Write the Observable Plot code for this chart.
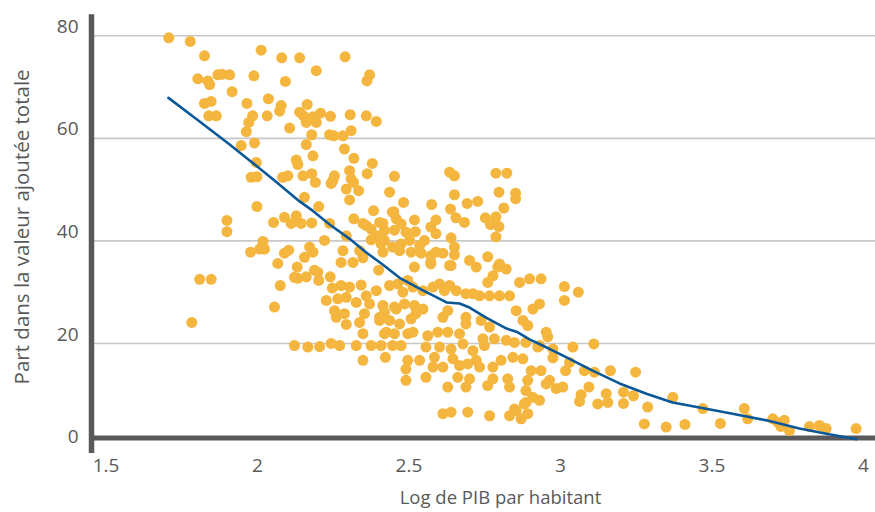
<!DOCTYPE html>
<html>
<head>
<meta charset="utf-8">
<script src="https://cdn.jsdelivr.net/npm/d3@7"></script>
<script src="https://cdn.jsdelivr.net/npm/@observablehq/plot@0.6"></script>
<style>
  html, body { margin: 0; padding: 0; background: #ffffff; }
  #chart { width: 875px; height: 512px; }
</style>
</head>
<body>
<div id="chart"></div>
<script>
// ---- Data (log GDP per capita, share of total value added) ----
const scatter = [
[1.707,79.6],[1.778,78.9],[1.825,76.1],[2.012,77.2],[2.080,75.7],[2.139,75.7],[2.289,75.9],
[1.803,71.6],[1.836,71.2],[1.842,70.5],[1.869,72.4],[1.883,72.5],[1.908,72.4],[1.988,72.2],
[2.092,71.1],[2.194,73.2],[2.370,72.4],[2.361,71.2],[1.916,69.1],[1.825,66.8],[1.847,67.2],
[1.839,64.4],[1.864,64.4],[1.965,66.8],[2.036,67.7],[2.078,66.4],[2.073,65.3],[2.164,66.6],
[2.139,65.1],[2.152,64.4],[2.161,63.1],[2.183,64.2],[2.194,63.1],[2.208,64.9],[2.241,64.3],
[2.306,64.6],[2.359,64.4],[2.392,63.3],[1.984,64.4],[1.971,63.1],[2.032,64.4],[1.963,61.3],
[2.106,62.0],[2.179,60.7],[2.238,60.7],[2.252,60.5],[2.282,60.5],[2.309,61.5],[1.946,58.6],
[1.990,59.1],[2.161,58.8],[2.287,57.9],[2.128,55.8],[2.133,54.9],[2.183,56.6],[2.318,56.1],
[2.379,55.1],[1.996,55.3],[2.304,53.7],[2.362,53.1],[2.452,52.6],[1.979,52.4],[1.998,52.5],
[2.083,52.4],[2.100,52.7],[2.150,52.7],[2.179,53.1],[2.254,52.7],[2.309,52.1],
[2.191,51.4],[2.243,51.2],[2.293,50.1],[2.317,51.4],[2.334,49.8],[2.304,48.0],[2.436,49.5],
[2.155,48.5],[2.202,46.7],[1.998,46.7],[1.899,44.0],[1.899,41.8],[2.053,43.6],[2.089,44.6],
[2.128,44.9],[2.111,43.4],[2.144,43.4],[2.179,43.5],[2.238,43.4],[2.318,44.3],[2.348,43.4],
[2.383,45.9],[2.414,43.4],[2.445,45.6],[2.452,42.1],[2.375,42.3],[2.392,41.0],[2.293,41.0],
[2.375,40.2],[2.419,40.1],[2.221,40.1],[2.018,39.9],[2.007,38.4],[2.023,38.4],[1.977,37.8],
[2.089,37.6],[2.103,38.2],[2.172,38.8],[2.183,37.8],[2.155,36.8],[2.282,38.1],[2.337,38.1],
[2.414,37.8],[2.276,35.8],[2.315,35.8],[2.348,36.7],[2.067,35.6],[2.131,34.9],[2.188,34.3],
[2.199,33.9],[2.400,34.3],[2.133,32.7],[2.161,33.0],[2.202,32.3],[2.240,33.0],[1.809,32.5],
[1.847,32.5],[2.075,31.3],[2.247,30.8],[2.276,31.3],[2.304,31.0],[2.342,31.4],[2.359,29.3],
[2.392,30.3],[2.436,31.3],[2.463,31.6],[2.227,28.4],[2.265,28.7],[2.293,29.0],[2.326,28.0],
[2.370,27.7],[2.414,27.4],[2.452,27.1],[2.254,26.4],[2.287,25.8],[2.260,25.1],[2.353,25.8],
[2.403,25.1],[2.436,24.5],[2.337,24.1],[2.293,23.7],[2.056,27.1],[1.783,24.1],[2.348,21.9],
[2.419,21.9],[2.452,21.9],
[2.122,32.9],[2.480,30.0],[2.496,32.3],[2.513,31.0],[2.546,30.3],[2.579,31.0],[2.601,31.6],
[2.617,30.3],[2.634,31.3],[2.656,30.3],[2.688,29.7],[2.711,29.7],[2.733,29.3],[2.766,29.3],
[2.799,29.3],[2.832,29.3],[2.760,31.9],[2.777,33.2],[2.793,34.9],[2.821,34.5],[2.865,31.9],
[2.898,32.6],[2.936,32.6],[2.572,35.5],[2.634,35.2],[2.722,34.9],[2.518,34.9],[2.419,26.1],
[2.458,26.7],[2.485,27.7],[2.518,27.4],[2.546,26.7],[2.403,24.5],[2.469,23.8],[2.507,24.8],
[2.523,25.8],[2.612,25.1],[2.628,26.4],[2.688,25.1],[2.688,23.8],[2.738,24.5],[2.766,23.2],
[2.854,26.4],[2.909,26.7],[2.931,27.7],[2.876,24.5],[2.892,23.5],[2.953,22.2],[2.958,21.3],
[2.425,22.2],[2.496,21.9],[2.513,22.2],[2.562,21.5],[2.595,22.2],[2.628,22.2],[2.667,21.9],
[2.744,20.9],[2.782,20.9],[2.821,20.6],[2.848,20.2],[2.122,19.6],[2.166,19.3],[2.205,19.4],
[2.243,20.0],[2.271,19.6],[2.326,19.6],[2.375,19.6],[2.408,19.6],[2.446,19.6],[2.474,19.6],
[2.556,19.3],[2.601,19.3],[2.639,18.9],[2.678,19.9],[2.711,18.6],[2.749,19.6],[2.886,20.2],
[2.931,19.6],[2.975,18.9],[2.348,16.7],[2.422,17.3],[2.496,16.7],[2.535,16.7],[2.490,15.0],
[2.584,17.3],[2.579,15.4],[2.612,15.4],[2.645,17.0],[2.667,15.7],[2.694,16.0],[2.722,16.7],
[2.733,15.4],[2.777,15.4],[2.804,16.7],[2.843,17.3],[2.876,17.0],[2.903,14.7],[2.936,14.7],
[2.953,12.1],[2.490,12.8],[2.556,13.4],[2.661,13.4],[2.700,13.1],[2.628,11.5],[2.688,11.5],
[2.760,11.8],[2.777,13.1],[2.826,13.1],[2.832,11.5],[2.892,12.8],[2.886,10.8],[2.909,9.5],
[2.931,8.9],[2.886,8.5],[2.964,12.8],[2.986,11.2],[2.612,6.3],[2.639,6.6],[2.694,6.6],
[2.766,5.9],[2.832,5.9],[2.854,6.9],[2.870,5.3],[2.892,6.3],
[2.249,51.8],[2.482,47.5],[2.575,47.1],[2.634,53.4],[2.650,52.7],[2.650,49.0],[2.637,46.2],
[2.692,47.3],[2.727,47.7],[2.787,53.2],[2.823,53.2],[2.797,49.5],[2.852,49.3],[2.852,48.2],
[2.813,46.4],[2.752,44.5],[2.769,43.2],[2.787,44.7],[2.797,42.8],[2.787,40.8],[2.655,44.5],
[2.683,43.6],[2.450,45.7],[2.359,43.0],[2.403,43.6],[2.419,42.0],[2.458,44.3],[2.474,43.3],
[2.490,41.7],[2.518,44.1],[2.521,41.8],[2.572,42.7],[2.589,44.1],[2.589,41.4],[2.639,40.6],
[2.408,39.4],[2.446,38.8],[2.474,39.4],[2.502,40.1],[2.535,39.1],[2.551,40.1],[2.469,38.1],
[2.507,37.8],[2.540,37.6],[2.572,37.1],[2.589,37.8],[2.612,37.6],[2.650,38.8],[2.650,37.3],
[2.572,35.8],[2.639,35.2],[2.700,36.2],[2.760,36.9],[2.799,35.5],
[3.013,31.1],[3.013,28.4],[3.059,30.0],[2.925,19.3],[3.041,19.3],[3.110,19.9],[2.975,17.2],
[3.030,16.3],[3.017,14.7],[3.079,14.7],[3.112,14.4],[3.165,14.7],[3.248,14.4],[3.008,11.5],
[3.094,11.5],[3.068,10.0],[3.063,8.7],[3.123,8.2],[3.151,10.2],[3.156,8.5],[3.208,10.5],
[3.208,8.3],[3.241,9.8],[2.881,8.2],[2.848,7.2],[3.288,7.6],[3.371,9.5],[3.277,4.3],
[3.349,3.7],[3.411,4.2],[3.470,7.3],[3.528,4.4],[3.607,7.3],[3.618,5.3],[3.701,5.3],
[3.718,4.6],[3.739,5.0],[3.728,3.8],[3.756,3.0],[3.822,3.8],[3.855,4.0],[3.877,3.4],[3.976,3.4]
];

// Smoothed trend line
const trend = [
[1.706,67.9],[1.809,63.3],[1.908,58.8],[1.974,55.7],[2.056,51.8],[2.139,47.7],[2.182,45.9],
[2.238,43.2],[2.304,40.4],[2.360,37.7],[2.413,35.4],[2.469,32.8],[2.535,30.7],[2.624,28.0],
[2.667,27.8],[2.700,27.0],[2.756,25.0],[2.822,22.9],[2.855,22.3],[2.898,20.8],[2.941,19.6],
[3.020,17.3],[3.106,14.7],[3.195,12.2],[3.284,10.2],[3.370,8.5],[3.459,7.5],[3.568,6.3],
[3.680,5.0],[3.789,3.4],[3.878,2.4],[3.977,1.3]
];

const xTicks = [1.5, 2, 2.5, 3, 3.5, 4];
const yTicks = [0, 20, 40, 60, 80];
const gridValues = [20, 40, 60, 80];
const xTitle = "Log de PIB par habitant";
const yTitle = "Part dans la valeur ajoutée totale";

// ---- Layout ----
const xDomain = [1.452, 4.04];
const yDomain = [0, 80];
const xAxisAt = 1.56;     // where the horizontal axis line crosses
const yAxisSpan = [-1.46, 84.1];

const FONT = "'Open Sans', 'Noto Sans', sans-serif";
const TEXT = "#595959";

const chart = Plot.plot({
  width: 875,
  height: 512,
  marginLeft: 91,
  marginRight: 0,
  marginTop: 35.3,
  marginBottom: 66.5,
  style: { fontFamily: FONT, fontSize: "19px", color: TEXT, background: "#fff", overflow: "visible" },
  x: { domain: xDomain, ticks: xTicks, tickFormat: d => String(d) },
  y: { domain: yDomain, ticks: yTicks },
  marks: [
    Plot.ruleY(gridValues, { x1: xDomain[0], x2: xDomain[1], stroke: "#c8c8c8", strokeWidth: 1.6 }),
    Plot.axisX(xTicks, { tickSize: 0, tickPadding: 12, fontSize: 19, fill: TEXT, label: null, tickFormat: d => String(d) }),
    Plot.axisY(yTicks, { tickSize: 0, tickPadding: 13, fontSize: 19, fill: TEXT, label: null, dy: -9 }),
    Plot.ruleX([xDomain[0]], { y1: yAxisSpan[0], y2: yAxisSpan[1], stroke: "#58595b", strokeWidth: 5.5, clip: false }),
    Plot.ruleY([xAxisAt], { x1: xDomain[0], x2: xDomain[1], stroke: "#58595b", strokeWidth: 5 }),
    Plot.dot(scatter, { x: d => d[0], y: d => d[1], r: 5.5, fill: "#f4b63e", stroke: "none" }),
    Plot.line(trend, { x: d => d[0], y: d => d[1], stroke: "#0b5898", strokeWidth: 2.6 }),
    Plot.text([xTitle], { frameAnchor: "bottom", dx: 17, dy: 52, fontSize: 18.5, fill: TEXT, lineAnchor: "middle", textAnchor: "middle" }),
    Plot.text([yTitle], { frameAnchor: "left", rotate: -90, dx: -69, dy: -14, fontSize: 20.5, fill: TEXT, lineAnchor: "middle", textAnchor: "middle" })
  ]
});

document.getElementById("chart").appendChild(chart);
</script>
</body>
</html>
